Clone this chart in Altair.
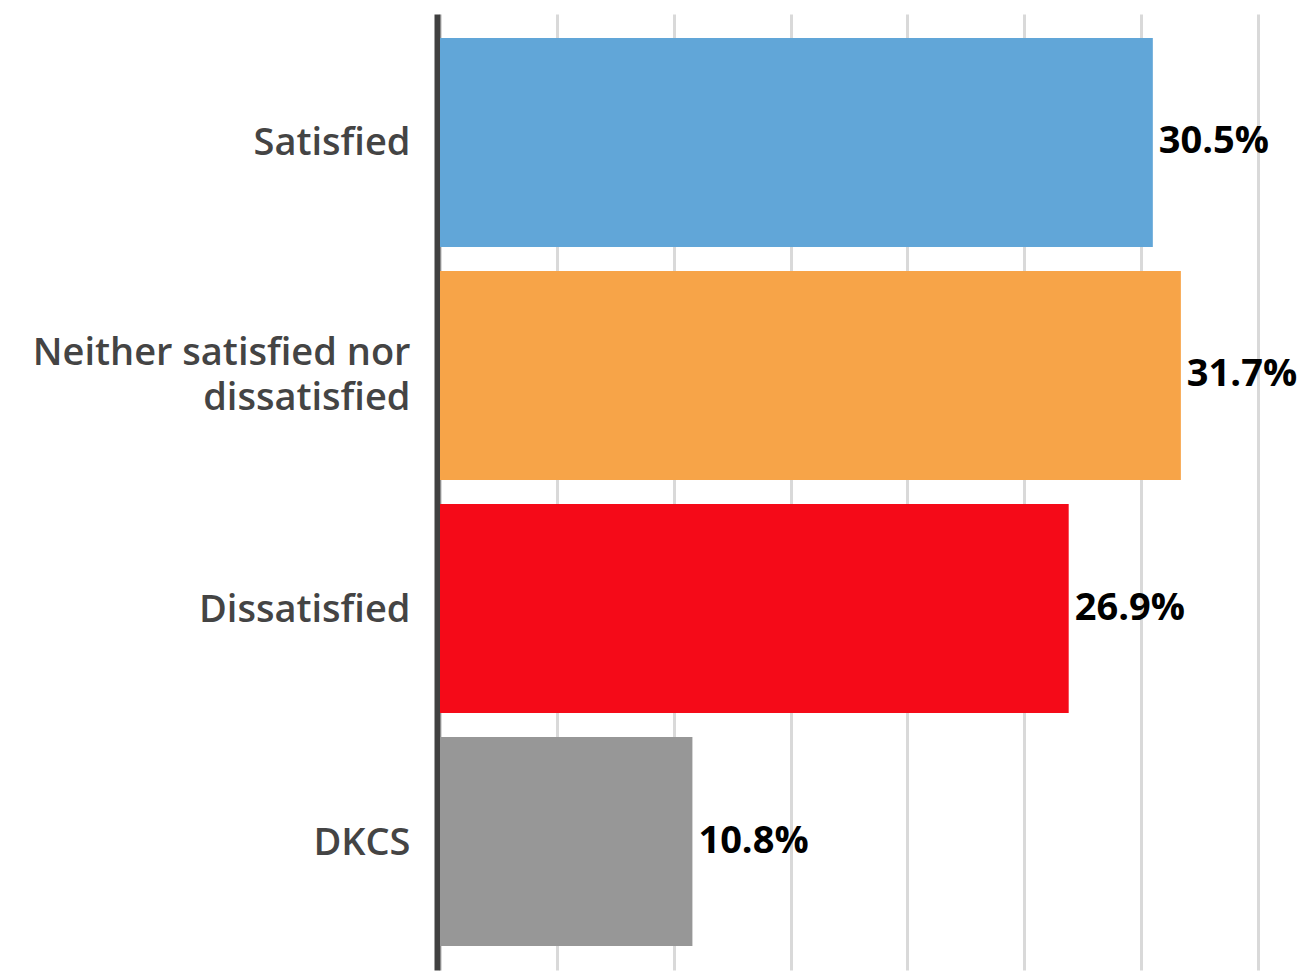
import altair as alt
import pandas as pd

categories = ["Satisfied", "Neither satisfied nor dissatisfied", "Dissatisfied", "DKCS"]
values = [30.5, 31.7, 26.9, 10.8]
labels = ["30.5%", "31.7%", "26.9%", "10.8%"]
colors = ["#61A6D8", "#F7A448", "#F50A18", "#979797"]

df = pd.DataFrame({"cat": categories, "val": values, "lbl": labels})

FONT = "Open Sans"

y_enc = alt.Y(
    "cat:N",
    sort=categories,
    scale=alt.Scale(paddingInner=0.103, paddingOuter=0.103),
    axis=alt.Axis(
        title=None,
        ticks=False,
        tickSize=0,
        domain=True,
        domainColor="#404040",
        domainWidth=6,
        offset=3,
        labelPadding=27,
        labelFont=FONT,
        labelFontSize=38,
        labelFontWeight=600,
        labelColor="#444444",
        labelLineHeight=45,
        labelLimit=0,
        labelOffset=alt.ExprRef(expr="datum.value == 'Neither satisfied nor dissatisfied' ? -21 : 2"),
        labelExpr="datum.label == 'Neither satisfied nor dissatisfied' ? ['Neither satisfied nor', 'dissatisfied'] : datum.label",
        grid=False,
    ),
)

x_enc = alt.X(
    "val:Q",
    scale=alt.Scale(domain=[0, 35], nice=False, zero=True),
    axis=alt.Axis(
        title=None,
        labels=False,
        ticks=False,
        domain=False,
        grid=True,
        gridColor="#d9d9d9",
        gridWidth=3,
        values=[0, 5, 10, 15, 20, 25, 30, 35],
    ),
)

base = alt.Chart(df).encode(x=x_enc, y=y_enc)

bars = base.mark_bar().encode(
    color=alt.Color("cat:N", scale=alt.Scale(domain=categories, range=colors), legend=None),
)

text = base.mark_text(
    align="left", baseline="middle", dx=6, font=FONT, fontSize=38, fontWeight="bold"
).encode(
    text="lbl:N",
    color=alt.value("#000000"),
)

chart = (
    alt.layer(bars, text)
    .properties(
        width=818,
        height=956,
        autosize=alt.AutoSizeParams(type="none"),
        padding={"left": 432, "top": 6, "right": 40, "bottom": 2},
        view=alt.ViewBackground(stroke="transparent", strokeWidth=0),
    )
    .configure_view(strokeWidth=0, stroke="transparent")
    .configure(background="white")
)

chart.save("out.html", embed_options={"renderer": "svg", "actions": False})
